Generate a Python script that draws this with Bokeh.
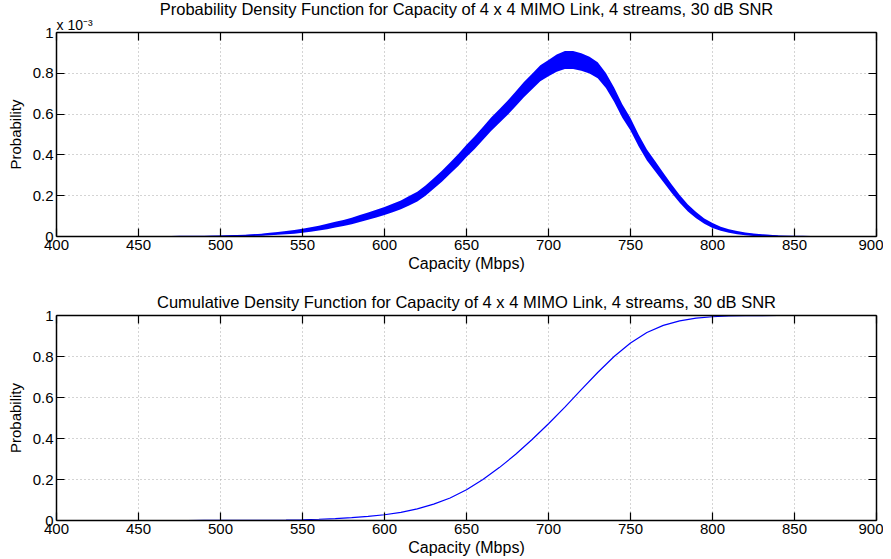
import numpy as np
from bokeh.plotting import figure
from bokeh.models import LinearAxis, FixedTicker, Range1d, Title
from bokeh.layouts import column
from bokeh.embed import file_html
from bokeh.resources import INLINE

# ---------------- data ----------------
x_ticks = [400, 450, 500, 550, 600, 650, 700, 750, 800, 850, 900]
y_ticks = [0, 0.2, 0.4, 0.6, 0.8, 1]
y_tick_labels = ["0", "0.2", "0.4", "0.6", "0.8", "1"]

titles = [
    "Probability Density Function for Capacity of 4 x 4 MIMO Link, 4 streams, 30 dB SNR",
    "Cumulative Density Function for Capacity of 4 x 4 MIMO Link, 4 streams, 30 dB SNR",
]
x_label = "Capacity (Mbps)"
y_label = "Probability"
pdf_scale_text = "x 10\u207b\u00b3"

# PDF, in units of 1e-3, every 5 Mbps: centre of the noisy band and its half width
pdf_x = list(range(450, 870, 5))
pdf_mid = [0.0, 0.0, 0.0, 0.0, 0.0, 0.0005, 0.0005, 0.001, 0.001, 0.0015,
           0.002, 0.003, 0.004, 0.005, 0.007, 0.009, 0.012, 0.015, 0.019, 0.023,
           0.028, 0.034, 0.041, 0.049, 0.058, 0.066, 0.076, 0.088, 0.100, 0.112,
           0.125, 0.140, 0.155, 0.175, 0.195, 0.225, 0.260, 0.295, 0.335, 0.375,
           0.420, 0.460, 0.505, 0.550, 0.590, 0.630, 0.675, 0.720, 0.760, 0.800,
           0.825, 0.850, 0.865, 0.865, 0.855, 0.840, 0.815, 0.765, 0.695, 0.615,
           0.550, 0.470, 0.400, 0.345, 0.290, 0.235, 0.185, 0.140, 0.105, 0.075,
           0.054, 0.038, 0.027, 0.019, 0.013, 0.009, 0.006, 0.004, 0.002, 0.001,
           0.0005, 0.0003, 0.0001, 0.0]
pdf_half = [0.001, 0.001, 0.001, 0.001, 0.001, 0.001, 0.001, 0.001, 0.001, 0.001,
            0.002, 0.0025, 0.003, 0.0035, 0.004, 0.005, 0.006, 0.007, 0.008, 0.009,
            0.010, 0.011, 0.012, 0.013, 0.014, 0.015, 0.016, 0.017, 0.018, 0.019,
            0.020, 0.021, 0.022, 0.023, 0.024, 0.025, 0.026, 0.027, 0.028, 0.029,
            0.030, 0.031, 0.032, 0.033, 0.034, 0.035, 0.036, 0.037, 0.038, 0.039,
            0.040, 0.042, 0.044, 0.044, 0.043, 0.041, 0.039, 0.037, 0.035, 0.033,
            0.031, 0.029, 0.027, 0.025, 0.023, 0.021, 0.019, 0.017, 0.015, 0.013,
            0.012, 0.010, 0.009, 0.008, 0.007, 0.006, 0.005, 0.004, 0.003, 0.0025,
            0.002, 0.0015, 0.001, 0.001]

# CDF, every 10 Mbps
cdf_x = [450, 460, 470, 480, 490, 500, 510, 520, 530, 540, 550, 560, 570, 580,
         590, 600, 610, 620, 630, 640, 650, 660, 670, 680, 690, 700, 710, 720,
         730, 740, 750, 760, 770, 780, 790, 800, 810, 820, 830, 840, 850, 860, 865]
cdf_y = [0.0, 0.0, 0.0001, 0.0001, 0.0002, 0.0003, 0.0005, 0.0008, 0.0013, 0.0022,
         0.0037, 0.006, 0.0095, 0.014, 0.020, 0.028, 0.040, 0.057, 0.080, 0.110,
         0.150, 0.200, 0.258, 0.323, 0.395, 0.472, 0.553, 0.638, 0.722, 0.800,
         0.866, 0.917, 0.952, 0.974, 0.987, 0.994, 0.998, 0.9993, 0.9998, 1.0,
         1.0, 1.0, 1.0]

# ---------------- styling ----------------
FONT = "Liberation Sans"
BLUE = "#0000ff"


def style_axis(ax, ticks):
    ax.ticker = FixedTicker(ticks=ticks)
    ax.major_tick_in = 8
    ax.major_tick_out = 0
    ax.minor_tick_in = 0
    ax.minor_tick_out = 0
    ax.axis_line_width = 1.5
    ax.axis_line_color = "black"
    ax.major_tick_line_width = 1.2
    ax.major_tick_line_color = "black"


def make_fig(height, top, bottom):
    p = figure(width=883, height=height, x_range=Range1d(400, 900), y_range=Range1d(0, 1),
               output_backend="svg", toolbar_location=None,
               min_border_left=56, min_border_right=7,
               min_border_top=top, min_border_bottom=bottom)
    p.title.text = ""
    p.title.visible = False
    p.outline_line_color = None
    p.background_fill_color = "white"
    p.border_fill_color = "white"

    xa = p.xaxis[0]
    ya = p.yaxis[0]
    for ax, ticks in ((xa, x_ticks), (ya, y_ticks)):
        style_axis(ax, ticks)
        ax.major_label_text_font = FONT
        ax.major_label_text_font_size = "15px"
        ax.major_label_text_color = "black"
        ax.axis_label_text_font = FONT
        ax.axis_label_text_font_style = "normal"
        ax.axis_label_text_color = "black"
    xa.major_label_standoff = 3
    xa.axis_label = x_label
    xa.axis_label_text_font_size = "16px"
    xa.axis_label_standoff = 2
    ya.major_label_standoff = 3
    ya.axis_label = y_label
    ya.axis_label_text_font_size = "15px"
    ya.axis_label_standoff = 6
    ya.major_label_overrides = dict(zip(y_ticks, y_tick_labels))

    for side, ticks in (("above", x_ticks), ("right", y_ticks)):
        ax = LinearAxis(major_label_standoff=0, major_label_text_font_size="1px",
                        major_label_text_alpha=0)
        style_axis(ax, ticks)
        ax.major_label_overrides = {t: "" for t in ticks}
        p.add_layout(ax, side)

    p.xgrid.ticker = FixedTicker(ticks=x_ticks)
    p.ygrid.ticker = FixedTicker(ticks=y_ticks)
    p.grid.grid_line_color = "#a8a8a8"
    p.grid.grid_line_dash = "1 3"
    p.grid.grid_line_width = 1
    return p


def add_title(p, text, size, align, standoff):
    p.add_layout(Title(text=text, align=align, text_font=FONT, text_font_size=size,
                       text_font_style="normal", text_color="black", standoff=standoff),
                 "above")


# top: PDF
p1 = make_fig(278, 31, 42)
add_title(p1, pdf_scale_text, "14px", "left", 0)
add_title(p1, titles[0], "16.5px", "center", -6)
mid = np.array(pdf_mid)
half = np.array(pdf_half)
p1.varea(x=pdf_x, y1=mid - half, y2=mid + half, fill_color=BLUE, fill_alpha=1.0)
p1.line(pdf_x, pdf_mid, line_color=BLUE, line_width=1.2)

# bottom: CDF
p2 = make_fig(280, 37, 38)
add_title(p2, titles[1], "16.5px", "center", 9)
p2.line(cdf_x, cdf_y, line_color=BLUE, line_width=1.2)

layout = column(p1, p2, spacing=0)
open("out.html", "w").write(file_html(layout, INLINE))
